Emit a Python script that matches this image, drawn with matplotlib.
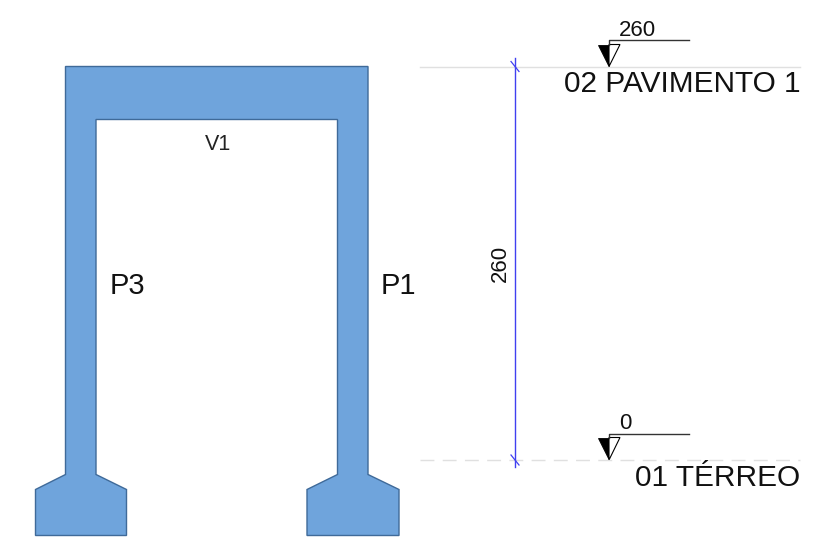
import matplotlib
matplotlib.use("Agg")
import matplotlib.pyplot as plt
from matplotlib.patches import Polygon

plt.rcParams['font.family'] = ['Liberation Sans', 'DejaVu Sans']

# Frame outline in image pixels
frame_x = [65.5, 368, 368, 399, 399, 307, 307, 337.5, 337.5, 96, 96, 126.5, 126.5, 35.5, 35.5, 65.5]
frame_y = [66.5, 66.5, 474.5, 489.5, 535.5, 535.5, 489.5, 474.5, 119.5, 119.5, 474.5, 489.5, 535.5, 535.5, 489.5, 474.5]

level_names = ['02 PAVIMENTO 1', '01 TÉRREO']
level_values = ['260', '0']
level_y = [66.5, 460]
marker_x = 609
dim_x = 515
dim_label = '260'
element_labels = ['V1', 'P3', 'P1']

BLUE = '#6fa4dc'
EDGE = '#3f6a99'

fig = plt.figure(figsize=(8.28, 5.40), dpi=100)
ax = fig.add_axes([0, 0, 1, 1])
ax.set_xlim(0, 828)
ax.set_ylim(540, 0)
ax.axis('off')

ax.add_patch(Polygon(list(zip(frame_x, frame_y)), closed=True, facecolor=BLUE, edgecolor=EDGE, linewidth=1.0))

ax.text(218.5, 145, element_labels[0], fontsize=15.5, ha='center', va='center', color='#222222')
ax.text(127.5, 286, element_labels[1], fontsize=21, ha='center', va='center', color='#111111')
ax.text(398.5, 286, element_labels[2], fontsize=21, ha='center', va='center', color='#111111')

# Level lines
ax.plot([420, 800], [level_y[0]] * 2, color='#e0e0e0', lw=1.0)
ax.plot([420, 800], [level_y[1]] * 2, color='#e0e0e0', lw=1.0, dashes=(10, 6))

# Dimension line
ax.plot([dim_x, dim_x], [58, 467], color='#4040f0', lw=1.0)
for y in level_y:
    ax.plot([dim_x - 4, dim_x + 4], [y - 5, y + 5], color='#4040f0', lw=0.9)
ax.text(500, 263, dim_label, rotation=90, fontsize=16, ha='center', va='center', color='#111111')

# Level markers
tops = [44.5, 437.5]
rules = [40, 433.5]
for top, rule, y, val in zip(tops, rules, [66.5, 460], level_values):
    ax.add_patch(Polygon([(marker_x - 11, top), (marker_x, top), (marker_x, y)], closed=True, facecolor='black', edgecolor='black', lw=0.6))
    ax.add_patch(Polygon([(marker_x, top), (marker_x + 11, top), (marker_x, y)], closed=True, facecolor='white', edgecolor='black', lw=0.8))
    ax.plot([marker_x, marker_x, 689], [top, rule, rule], color='#333333', lw=1.0)
    ax.text(619, rule + 0.5, val, fontsize=16, ha='left', va='bottom', color='#111111')

ax.text(801, 84, level_names[0], fontsize=21.4, ha='right', va='center', color='#111111')
ax.text(800, 477.5, level_names[1], fontsize=21.4, ha='right', va='center', color='#111111')

fig.savefig('out.png', dpi=100)
